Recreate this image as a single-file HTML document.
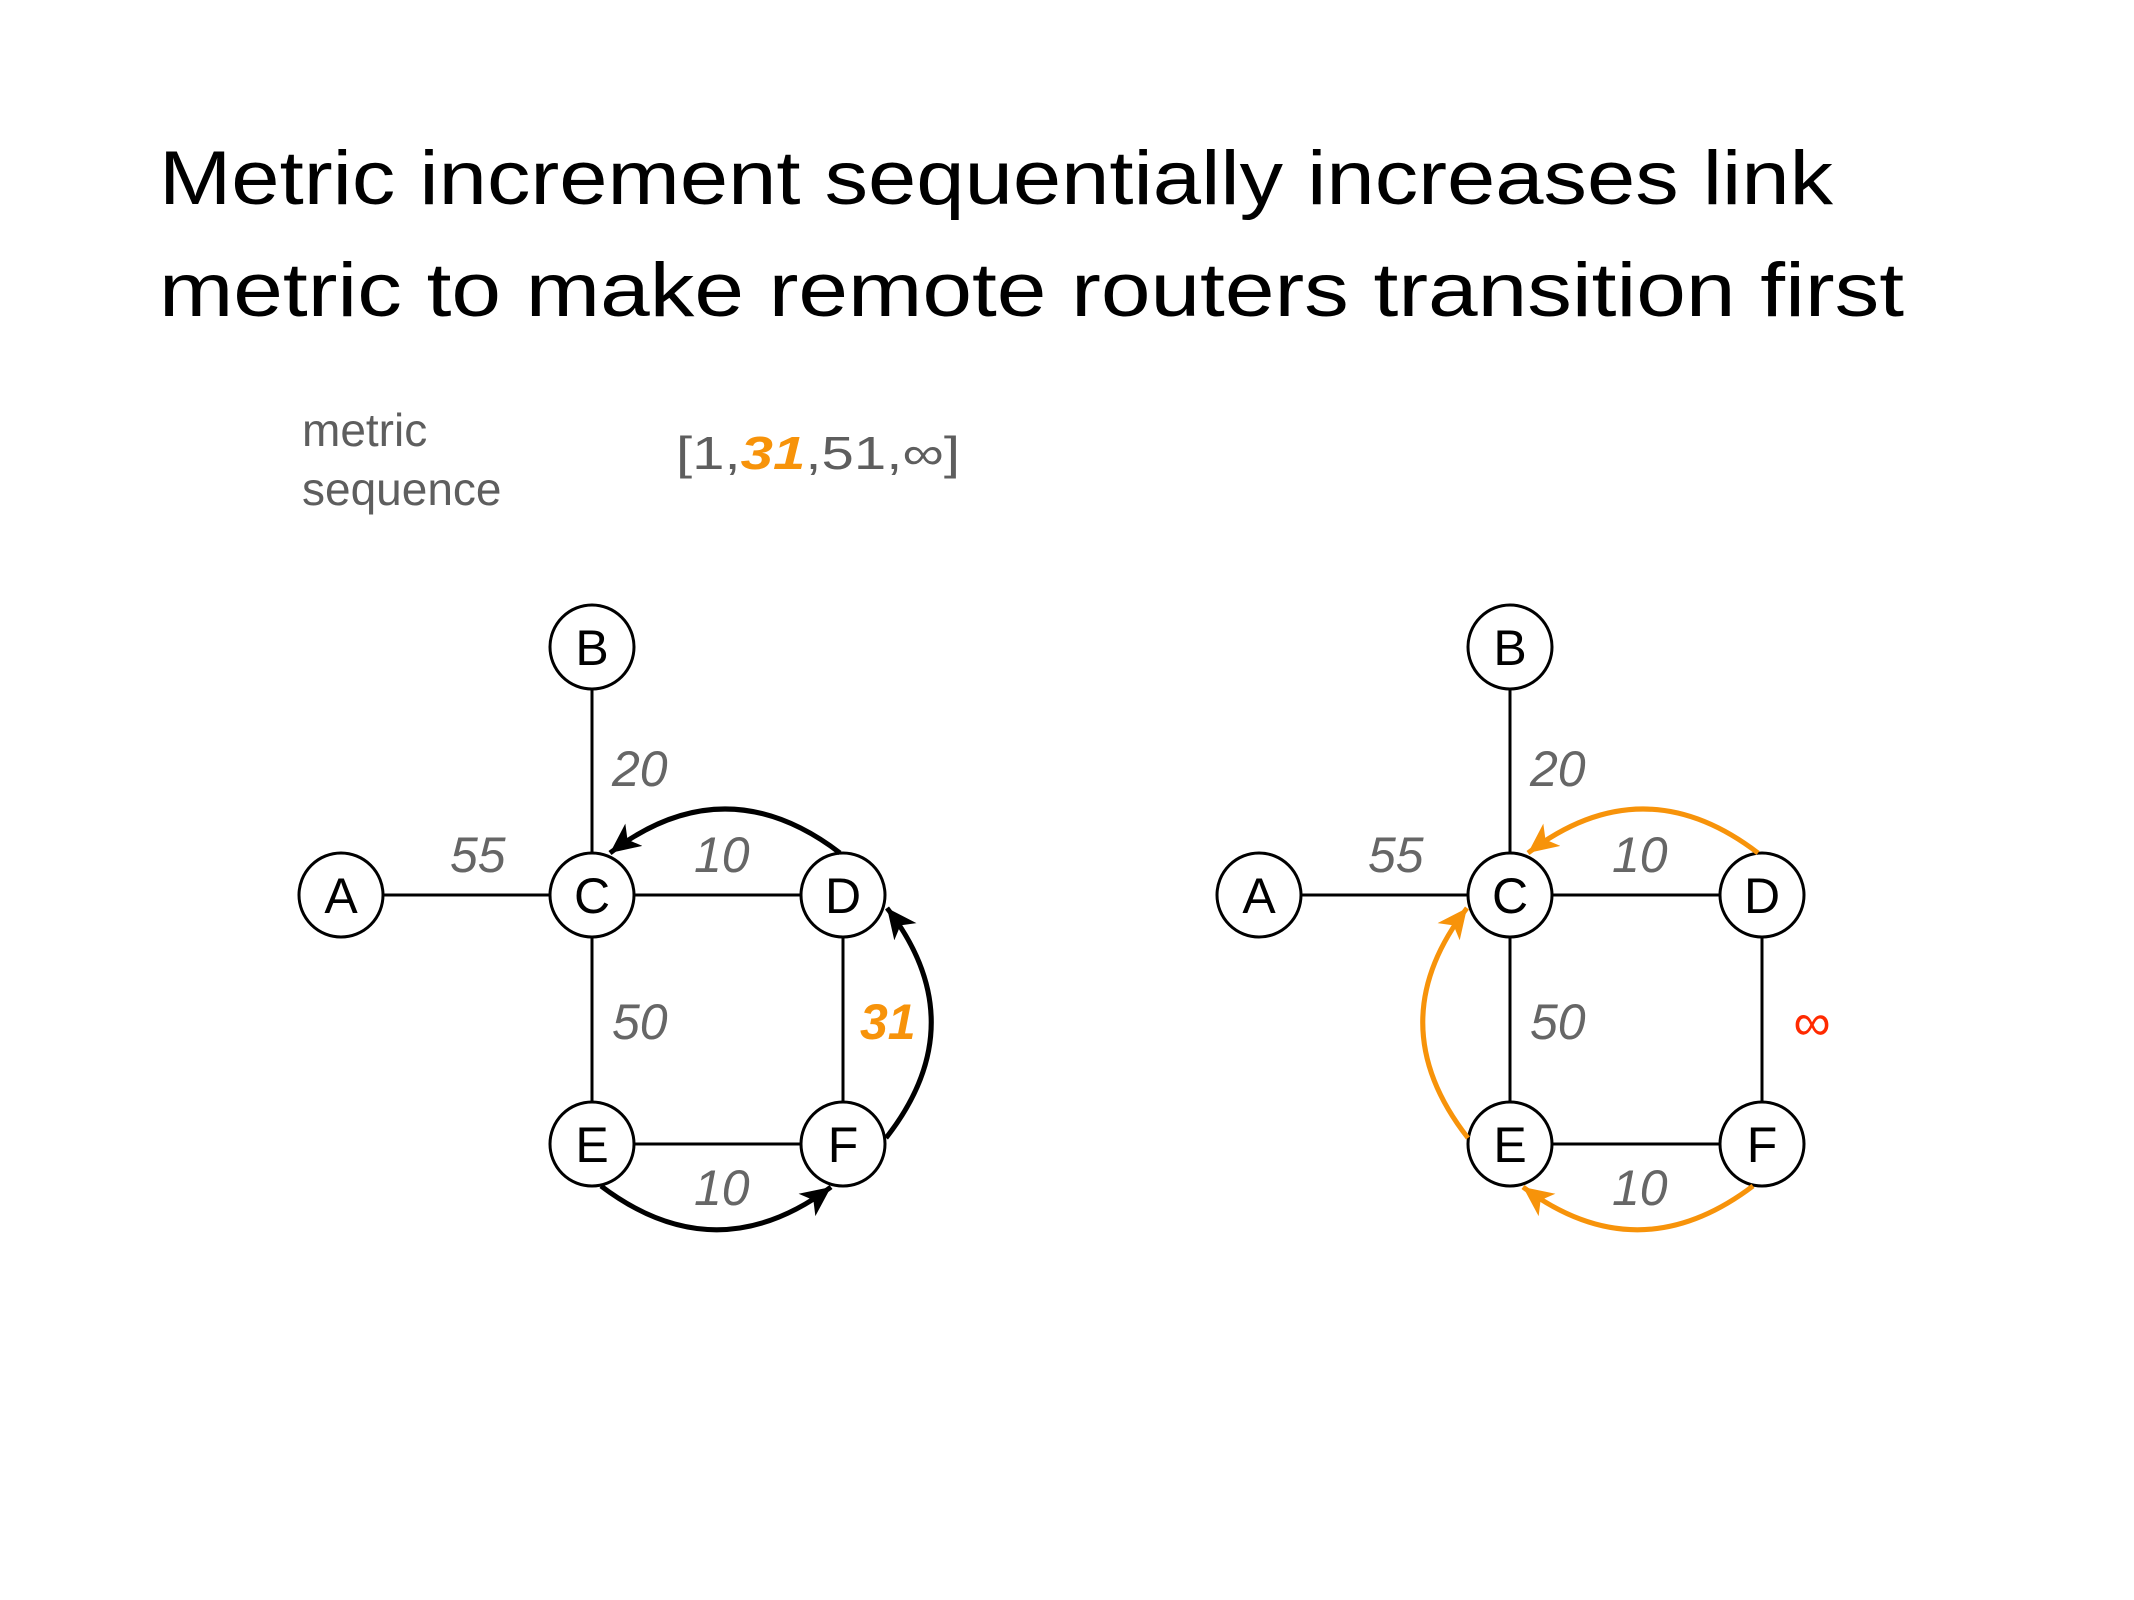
<!DOCTYPE html>
<html><head><meta charset="utf-8"><style>html,body{margin:0;padding:0;background:#fff}svg{display:block}</style></head>
<body>
<svg width="2134" height="1600" viewBox="0 0 2134 1600" xmlns="http://www.w3.org/2000/svg" font-family="Liberation Sans, sans-serif">
<defs>
<marker id="ak" markerUnits="userSpaceOnUse" markerWidth="40" markerHeight="40" refX="30" refY="14" orient="auto" viewBox="0 0 40 40">
<path d="M30,14 L0,0 L8,14 L0,28 Z" fill="#000"/></marker>
<marker id="ao" markerUnits="userSpaceOnUse" markerWidth="40" markerHeight="40" refX="30" refY="14" orient="auto" viewBox="0 0 40 40">
<path d="M30,14 L0,0 L8,14 L0,28 Z" fill="#f7930a"/></marker>
</defs>
<text x="159" y="204" font-size="76" textLength="1674" lengthAdjust="spacingAndGlyphs">Metric increment sequentially increases link</text>
<text x="159" y="316" font-size="76" textLength="1745" lengthAdjust="spacingAndGlyphs">metric to make remote routers transition first</text>
<text x="302" y="446" font-size="46" fill="#5e5e5e">metric</text>
<text x="302" y="505" font-size="46" fill="#5e5e5e">sequence</text>
<text x="676" y="469" font-size="46" fill="#5e5e5e" textLength="284" lengthAdjust="spacingAndGlyphs">[1,<tspan fill="#f7930a" font-weight="bold" font-style="italic">31</tspan>,51,∞]</text>

<g id="left">
<g stroke="#000" stroke-width="3" fill="none">
<line x1="341" y1="895" x2="843" y2="895"/>
<line x1="592" y1="647" x2="592" y2="1144"/>
<line x1="592" y1="1144" x2="843" y2="1144"/>
<line x1="843" y1="895" x2="843" y2="1144"/>
</g>
<g stroke="#000" stroke-width="3" fill="#fff">
<circle cx="341" cy="895" r="42"/><circle cx="592" cy="647" r="42"/><circle cx="592" cy="895" r="42"/>
<circle cx="843" cy="895" r="42"/><circle cx="592" cy="1144" r="42"/><circle cx="843" cy="1144" r="42"/>
</g>
<g font-size="50" text-anchor="middle">
<text x="341" y="913">A</text><text x="592" y="665">B</text><text x="592" y="913">C</text>
<text x="843" y="913">D</text><text x="592" y="1162">E</text><text x="843" y="1162">F</text>
</g>
<g font-size="50" font-style="italic" fill="#666">
<text x="612" y="786">20</text><text x="450" y="872">55</text><text x="694" y="872">10</text>
<text x="612" y="1039">50</text><text x="694" y="1205">10</text>
</g>
<text x="860" y="1039" font-size="50" font-style="italic" font-weight="bold" fill="#f7930a">31</text>
<g stroke="#000" stroke-width="5" fill="none">
<path d="M840,853 Q725,765 610,853" marker-end="url(#ak)"/>
<path d="M886,1138 Q976,1023 887,908" marker-end="url(#ak)"/>
<path d="M601,1186 Q716,1273 831,1187" marker-end="url(#ak)"/>
</g>
</g>

<g id="right">
<g stroke="#000" stroke-width="3" fill="none">
<line x1="1259" y1="895" x2="1762" y2="895"/>
<line x1="1510" y1="647" x2="1510" y2="1144"/>
<line x1="1510" y1="1144" x2="1762" y2="1144"/>
<line x1="1762" y1="895" x2="1762" y2="1144"/>
</g>
<g stroke="#000" stroke-width="3" fill="#fff">
<circle cx="1259" cy="895" r="42"/><circle cx="1510" cy="647" r="42"/><circle cx="1510" cy="895" r="42"/>
<circle cx="1762" cy="895" r="42"/><circle cx="1510" cy="1144" r="42"/><circle cx="1762" cy="1144" r="42"/>
</g>
<g font-size="50" text-anchor="middle">
<text x="1259" y="913">A</text><text x="1510" y="665">B</text><text x="1510" y="913">C</text>
<text x="1762" y="913">D</text><text x="1510" y="1162">E</text><text x="1762" y="1162">F</text>
</g>
<g font-size="50" font-style="italic" fill="#666">
<text x="1530" y="786">20</text><text x="1368" y="872">55</text><text x="1612" y="872">10</text>
<text x="1530" y="1039">50</text><text x="1612" y="1205">10</text>
</g>
<text x="1812" y="1040" font-size="52" fill="#ff2a00" text-anchor="middle">∞</text>
<g stroke="#f7930a" stroke-width="5" fill="none">
<path d="M1758,853 Q1643,765 1528,853" marker-end="url(#ao)"/>
<path d="M1468,1138 Q1378,1023 1467,908" marker-end="url(#ao)"/>
<path d="M1753,1186 Q1638,1273 1523,1187" marker-end="url(#ao)"/>
</g>
</g>
</svg>
</body></html>
